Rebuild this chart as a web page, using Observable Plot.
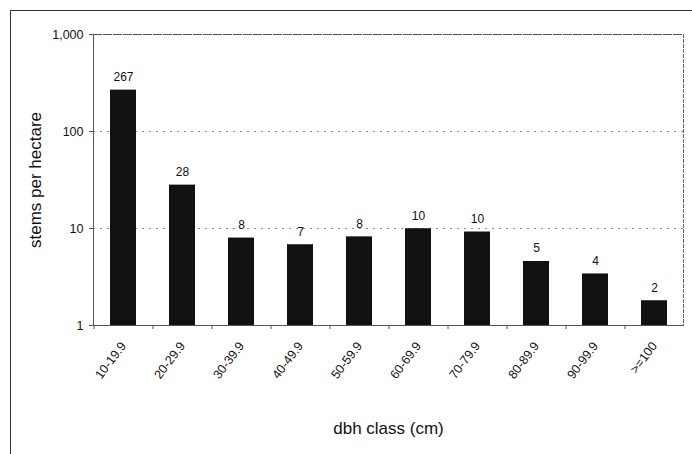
<!DOCTYPE html>
<html><head><meta charset="utf-8">
<script src="https://cdn.jsdelivr.net/npm/d3@7"></script>
<script src="https://cdn.jsdelivr.net/npm/@observablehq/plot@0.6"></script>
<style>
body{margin:0;background:#fff;}
#wrap{position:relative;width:692px;height:454px;overflow:hidden;background:#fff;}
#border{position:absolute;left:10px;top:10px;width:700px;height:460px;border-top:1px solid #333;border-left:1px solid #333;pointer-events:none;}
#wrap svg{position:absolute;left:0;top:0;}
</style></head><body><div id="wrap"><div id="border"></div></div>
<script>
const classes = ["10-19.9","20-29.9","30-39.9","40-49.9","50-59.9","60-69.9","70-79.9","80-89.9","90-99.9",">=100"];
const stems = [267, 28, 7.97, 6.8, 8.2, 9.95, 9.2, 4.57, 3.4, 1.8];
const valueLabels = ["267","28","8","7","8","10","10","5","4","2"];
const yTicks = [1, 10, 100, 1000];
const gridValues = [10, 100];
const yTitle = "stems per hectare";
const xTitle = "dbh class (cm)";

const data = classes.map((c, i) => ({cls: c, stems: stems[i], label: valueLabels[i]}));

const chart = Plot.plot({
  width: 692, height: 454,
  marginLeft: 93, marginRight: 9, marginTop: 34, marginBottom: 129,
  style: {fontFamily: "'Liberation Sans', Arial, sans-serif", background: "transparent", color: "#111"},
  x: {domain: classes, paddingInner: 0.56, paddingOuter: 0.28, align: 0.5, label: null},
  y: {type: "log", domain: [1, 1000], label: null},
  marks: [
    Plot.ruleY(gridValues, {stroke: "#888", strokeDasharray: "2,5"}),
    Plot.frame({anchor: "top", stroke: "#555", strokeDasharray: "8,2"}),
    Plot.frame({anchor: "right", stroke: "#666", strokeDasharray: "3,2"}),
    Plot.barY(data, {x: "cls", y1: 1, y2: "stems", fill: "#111"}),
    Plot.text(data, {x: "cls", y: "stems", text: "label", lineAnchor: "bottom", dy: -9, fontSize: 12, fill: "#111"}),
    Plot.axisY({ticks: yTicks, tickFormat: d3.format(","), tickSize: 4, tickPadding: 6, fontSize: 12.5, label: null, stroke: "#555"}),
    Plot.frame({anchor: "left", stroke: "#555"}),
    Plot.frame({anchor: "bottom", stroke: "#555"}),
    Plot.axisX({tickSize: 4, tickFormat: () => "", dx: -29.5, label: null, stroke: "#555"}),
    Plot.axisX({tickSize: 0, tickPadding: 18, tickRotate: -53, fontSize: 12.5, label: null}),
    Plot.text([yTitle], {frameAnchor: "left", textAnchor: "middle", dx: -58, rotate: -90, fontSize: 17, fill: "#111"}),
    Plot.text([xTitle], {frameAnchor: "bottom", dy: 108, fontSize: 17, fill: "#111"})
  ]
});
document.getElementById("wrap").appendChild(chart);
</script>
</body></html>
